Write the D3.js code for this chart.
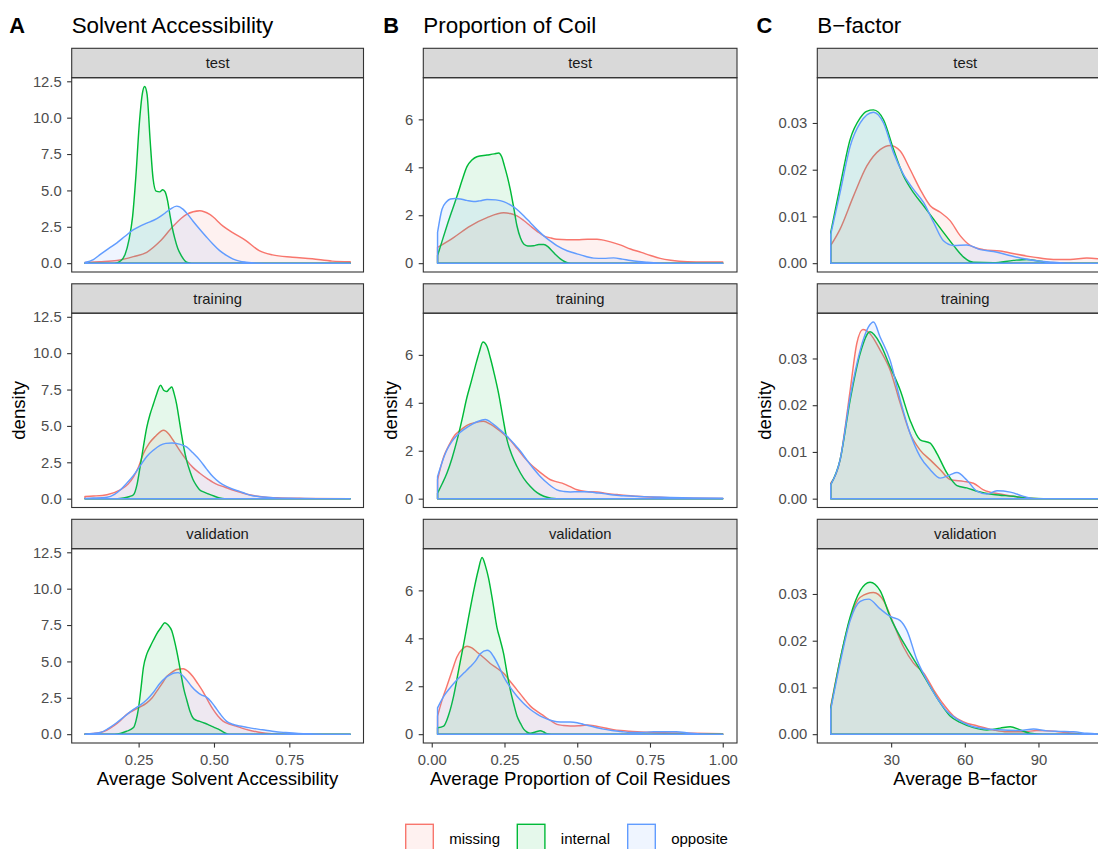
<!DOCTYPE html>
<html>
<head>
<meta charset="utf-8">
<script src="https://cdn.jsdelivr.net/npm/d3@7"></script>
<style>
  html, body { margin: 0; padding: 0; background: #ffffff; }
  svg { display: block; font-family: "Liberation Sans", Arial, Helvetica, sans-serif; }
</style>
</head>
<body>
<svg id="chart" width="1098" height="849"></svg>
<script>
// ---- categories ----
const splits = ["test", "training", "validation"];
const groups = ["missing", "internal", "opposite"];
const groupColors = ["#F8766D", "#00BA38", "#619CFF"];

// ---- tick labels ----
const saYTicks = [0, 2.5, 5, 7.5, 10, 12.5];
const saXTicks = [0.25, 0.5, 0.75];
const coilYTicks = [0, 2, 4, 6];
const coilXTicks = [0, 0.25, 0.5, 0.75, 1];
const bfYTicks = [0, 0.01, 0.02, 0.03];
const bfXTicks = [30, 60, 90];

// ---- density curves: [value, density] ----
// Solvent accessibility
const saTestMissing = [[0.072,0.05],[0.12,0.1],[0.178,0.18],[0.233,0.45],[0.277,0.75],[0.321,1.5],[0.365,2.55],[0.409,3.35],[0.453,3.6],[0.486,3.35],[0.53,2.55],[0.562,2.1],[0.606,1.55],[0.65,0.86],[0.694,0.57],[0.76,0.41],[0.826,0.3],[0.892,0.14],[0.952,0.1]];
const saTestInternal = [[0.072,0],[0.17,0],[0.19,0.15],[0.205,0.6],[0.218,1.6],[0.23,3.2],[0.241,6.0],[0.252,9.5],[0.262,11.6],[0.27,12.14],[0.278,11.6],[0.288,8.5],[0.298,5.8],[0.308,4.95],[0.32,4.9],[0.33,5.05],[0.338,4.9],[0.346,4.3],[0.354,3.3],[0.362,2.4],[0.37,1.7],[0.38,1.0],[0.392,0.5],[0.404,0.15],[0.415,0.03],[0.425,0],[0.952,0]];
const saTestOpposite = [[0.072,0.05],[0.1,0.25],[0.123,0.6],[0.15,1.0],[0.178,1.4],[0.205,1.85],[0.233,2.3],[0.255,2.55],[0.277,2.75],[0.3,2.95],[0.321,3.2],[0.338,3.45],[0.354,3.7],[0.376,3.92],[0.398,3.7],[0.415,3.3],[0.43,2.9],[0.452,2.35],[0.475,1.8],[0.497,1.3],[0.519,0.86],[0.54,0.55],[0.562,0.3],[0.585,0.14],[0.606,0.07],[0.64,0.01],[0.67,0],[0.952,0]];
const saTrainingMissing = [[0.072,0.15],[0.1,0.18],[0.145,0.27],[0.189,0.6],[0.215,1.0],[0.233,1.5],[0.25,2.2],[0.266,3.1],[0.285,3.8],[0.304,4.25],[0.333,4.7],[0.35,4.45],[0.365,4.0],[0.385,3.35],[0.409,2.65],[0.43,2.15],[0.453,1.75],[0.48,1.35],[0.508,1.0],[0.535,0.8],[0.562,0.6],[0.59,0.42],[0.617,0.27],[0.645,0.17],[0.672,0.1],[0.72,0.05],[0.8,0.02],[0.952,0]];
const saTrainingInternal = [[0.072,0],[0.18,0],[0.2,0.05],[0.22,0.15],[0.233,0.27],[0.245,1.0],[0.255,2.2],[0.266,3.6],[0.277,4.9],[0.288,5.8],[0.299,6.5],[0.31,7.2],[0.323,7.8],[0.333,7.45],[0.343,7.36],[0.352,7.55],[0.36,7.68],[0.368,7.2],[0.376,6.5],[0.384,5.5],[0.392,4.46],[0.4,3.5],[0.409,2.65],[0.42,1.9],[0.43,1.34],[0.442,0.9],[0.453,0.6],[0.467,0.45],[0.48,0.34],[0.5,0.18],[0.519,0.05],[0.535,0],[0.952,0]];
const saTrainingOpposite = [[0.072,0.02],[0.1,0.04],[0.145,0.1],[0.17,0.3],[0.189,0.6],[0.21,1.05],[0.233,1.6],[0.255,2.25],[0.277,2.9],[0.3,3.35],[0.321,3.67],[0.34,3.8],[0.36,3.83],[0.385,3.75],[0.409,3.56],[0.43,3.15],[0.453,2.65],[0.475,2.05],[0.497,1.5],[0.519,1.1],[0.541,0.84],[0.563,0.65],[0.585,0.5],[0.607,0.33],[0.628,0.2],[0.66,0.12],[0.694,0.07],[0.75,0.03],[0.8,0.01],[0.85,0],[0.952,0]];
const saValidationMissing = [[0.072,0.03],[0.1,0.05],[0.123,0.11],[0.145,0.28],[0.167,0.56],[0.19,0.95],[0.211,1.36],[0.244,1.76],[0.277,2.15],[0.295,2.5],[0.31,2.94],[0.327,3.45],[0.343,3.96],[0.36,4.25],[0.376,4.45],[0.398,4.5],[0.415,4.3],[0.43,3.96],[0.447,3.45],[0.463,2.94],[0.48,2.3],[0.497,1.7],[0.513,1.25],[0.53,0.9],[0.55,0.7],[0.573,0.56],[0.595,0.4],[0.617,0.27],[0.645,0.15],[0.672,0.07],[0.72,0.02],[0.8,0],[0.952,0]];
const saValidationInternal = [[0.072,0],[0.17,0],[0.189,0.05],[0.21,0.2],[0.233,0.45],[0.241,0.9],[0.249,1.7],[0.257,3.0],[0.266,4.6],[0.277,5.5],[0.288,6.0],[0.3,6.5],[0.31,6.9],[0.325,7.35],[0.337,7.66],[0.348,7.5],[0.36,7.1],[0.368,6.5],[0.376,5.76],[0.384,4.9],[0.392,3.96],[0.4,3.1],[0.409,2.4],[0.42,1.6],[0.43,1.13],[0.442,0.95],[0.453,0.88],[0.47,0.75],[0.486,0.6],[0.502,0.45],[0.519,0.3],[0.535,0.1],[0.55,0],[0.952,0]];
const saValidationOpposite = [[0.072,0.02],[0.1,0.05],[0.123,0.11],[0.15,0.4],[0.178,0.8],[0.205,1.25],[0.233,1.7],[0.255,2.0],[0.277,2.37],[0.3,2.9],[0.321,3.5],[0.338,3.85],[0.354,4.07],[0.368,4.2],[0.381,4.23],[0.395,4.05],[0.409,3.73],[0.425,3.3],[0.442,2.94],[0.458,2.7],[0.475,2.55],[0.49,2.25],[0.502,1.92],[0.52,1.4],[0.541,0.9],[0.562,0.68],[0.585,0.56],[0.607,0.48],[0.628,0.4],[0.65,0.33],[0.672,0.27],[0.7,0.18],[0.738,0.11],[0.78,0.05],[0.83,0.02],[0.88,0],[0.952,0]];

// Proportion of coil residues
const coilTestMissing = [[0.02,0.66],[0.075,1.07],[0.132,1.55],[0.19,1.9],[0.247,2.1],[0.27,2.07],[0.293,1.97],[0.316,1.78],[0.339,1.55],[0.362,1.33],[0.385,1.14],[0.41,1.05],[0.43,1.0],[0.465,0.98],[0.499,0.98],[0.535,1.0],[0.568,1.0],[0.59,0.96],[0.614,0.89],[0.65,0.75],[0.683,0.59],[0.72,0.45],[0.752,0.32],[0.785,0.2],[0.821,0.12],[0.85,0.08],[0.878,0.06],[0.94,0.05],[1.0,0.05]];
const coilTestInternal = [[0.02,0.32],[0.035,0.9],[0.052,1.55],[0.07,2.2],[0.087,2.8],[0.104,3.45],[0.121,4.03],[0.138,4.3],[0.155,4.44],[0.19,4.51],[0.215,4.56],[0.23,4.6],[0.24,4.45],[0.25,4.05],[0.26,3.6],[0.27,3.07],[0.282,2.3],[0.293,1.55],[0.305,1.05],[0.316,0.8],[0.33,0.72],[0.35,0.73],[0.368,0.78],[0.385,0.78],[0.4,0.68],[0.413,0.52],[0.428,0.33],[0.442,0.18],[0.456,0.07],[0.47,0.01],[0.485,0],[1.0,0]];
const coilTestOpposite = [[0.02,1.28],[0.035,2.24],[0.05,2.55],[0.064,2.68],[0.08,2.7],[0.098,2.68],[0.12,2.62],[0.144,2.57],[0.165,2.6],[0.19,2.66],[0.22,2.64],[0.247,2.57],[0.27,2.43],[0.293,2.24],[0.316,1.98],[0.339,1.69],[0.362,1.4],[0.385,1.14],[0.408,0.92],[0.43,0.73],[0.465,0.52],[0.499,0.39],[0.53,0.28],[0.557,0.21],[0.59,0.2],[0.625,0.22],[0.655,0.17],[0.683,0.11],[0.71,0.07],[0.74,0.04],[0.78,0.01],[0.82,0],[1.0,0]];
const coilTrainingMissing = [[0.02,0.79],[0.041,1.75],[0.058,2.2],[0.075,2.58],[0.098,2.85],[0.121,3.06],[0.15,3.18],[0.178,3.23],[0.2,3.12],[0.224,2.92],[0.247,2.7],[0.27,2.44],[0.293,2.1],[0.316,1.75],[0.339,1.45],[0.362,1.2],[0.385,0.98],[0.408,0.79],[0.43,0.7],[0.454,0.62],[0.476,0.5],[0.499,0.37],[0.53,0.3],[0.568,0.28],[0.6,0.22],[0.637,0.17],[0.67,0.13],[0.706,0.1],[0.75,0.07],[0.8,0.05],[0.85,0.03],[0.9,0.02],[1.0,0.01]];
const coilTrainingInternal = [[0.02,0.23],[0.035,0.6],[0.052,1.06],[0.07,1.7],[0.087,2.44],[0.104,3.3],[0.121,4.23],[0.135,4.85],[0.15,5.54],[0.163,6.1],[0.176,6.54],[0.19,6.35],[0.201,5.89],[0.215,5.2],[0.23,4.37],[0.245,3.35],[0.259,2.44],[0.276,1.8],[0.293,1.34],[0.316,0.85],[0.339,0.51],[0.362,0.25],[0.385,0.1],[0.41,0.02],[0.43,0],[1.0,0]];
const coilTrainingOpposite = [[0.02,0.92],[0.035,1.5],[0.052,2.03],[0.07,2.4],[0.087,2.65],[0.11,2.88],[0.132,3.06],[0.158,3.22],[0.184,3.3],[0.21,3.12],[0.236,2.86],[0.259,2.6],[0.282,2.3],[0.305,1.98],[0.327,1.61],[0.35,1.25],[0.373,0.92],[0.4,0.62],[0.43,0.37],[0.455,0.3],[0.476,0.28],[0.505,0.29],[0.534,0.29],[0.562,0.25],[0.591,0.21],[0.625,0.15],[0.66,0.12],[0.71,0.09],[0.763,0.07],[0.82,0.05],[0.9,0.03],[1.0,0.02]];
const coilValidationMissing = [[0.02,0.76],[0.035,1.4],[0.052,2.0],[0.07,2.65],[0.087,3.23],[0.105,3.55],[0.121,3.67],[0.138,3.6],[0.155,3.43],[0.178,3.2],[0.201,2.95],[0.224,2.75],[0.247,2.54],[0.27,2.2],[0.293,1.85],[0.316,1.5],[0.339,1.17],[0.362,0.95],[0.385,0.76],[0.408,0.57],[0.43,0.41],[0.453,0.36],[0.476,0.34],[0.505,0.35],[0.534,0.38],[0.562,0.34],[0.591,0.27],[0.62,0.2],[0.649,0.15],[0.678,0.12],[0.706,0.1],[0.75,0.08],[0.8,0.06],[0.9,0.04],[1.0,0.02]];
const coilValidationInternal = [[0.02,0.27],[0.041,0.34],[0.058,0.8],[0.075,1.58],[0.092,2.65],[0.11,3.78],[0.127,4.9],[0.144,5.97],[0.16,6.85],[0.173,7.37],[0.185,7.0],[0.195,6.52],[0.21,5.5],[0.224,4.46],[0.236,3.9],[0.247,3.36],[0.258,2.6],[0.27,1.85],[0.282,1.25],[0.293,0.76],[0.305,0.45],[0.316,0.21],[0.328,0.08],[0.339,0.04],[0.356,0.09],[0.373,0.14],[0.385,0.09],[0.396,0.02],[0.41,0],[1.0,0]];
const coilValidationOpposite = [[0.02,1.1],[0.041,1.58],[0.064,1.95],[0.087,2.27],[0.11,2.55],[0.132,2.81],[0.15,3.05],[0.167,3.36],[0.19,3.5],[0.2,3.45],[0.213,3.23],[0.23,2.85],[0.247,2.4],[0.27,1.95],[0.293,1.58],[0.316,1.28],[0.339,1.03],[0.362,0.84],[0.385,0.69],[0.408,0.58],[0.43,0.52],[0.455,0.51],[0.476,0.51],[0.5,0.48],[0.522,0.41],[0.545,0.34],[0.568,0.27],[0.59,0.21],[0.614,0.16],[0.65,0.11],[0.683,0.07],[0.72,0.07],[0.763,0.1],[0.8,0.1],[0.84,0.1],[0.889,0.04],[0.93,0.01],[1.0,0]];

// B-factor
const bfTestMissing = [[5.4,0.0038],[9.2,0.0073],[14.7,0.0144],[20.1,0.0208],[25.5,0.0243],[29.6,0.0252],[33.7,0.024],[37.7,0.0201],[41.8,0.0158],[45.9,0.0123],[50,0.0109],[54,0.0091],[58.1,0.0059],[62.2,0.0038],[67.6,0.0029],[74.4,0.0026],[81.2,0.0019],[88,0.0013],[96.1,0.0008],[102.9,0.0008],[109.7,0.0011],[115,0.0009]];
const bfTestInternal = [[5.4,0.0066],[9.2,0.0165],[13.3,0.0265],[17.4,0.0311],[20,0.0325],[22.8,0.0328],[26.9,0.0307],[31,0.0243],[35,0.0187],[39.1,0.0151],[43.2,0.0123],[47.3,0.0094],[51.3,0.0066],[55.4,0.0038],[59.5,0.0013],[63.5,0.0002],[71.7,0.0001],[79.8,0.0006],[85.3,0.0008],[90.7,0.0004],[97.5,0],[115,0]];
const bfTestOpposite = [[5.4,0.0062],[9.2,0.0151],[13.3,0.025],[17.4,0.03],[22.8,0.0323],[26.9,0.03],[31,0.0236],[35,0.019],[39.1,0.0158],[43.2,0.013],[47.3,0.0087],[51.3,0.0048],[55.4,0.0038],[60.8,0.0039],[66.3,0.0029],[71.7,0.0025],[77.1,0.0018],[82.6,0.0011],[90.7,0.0004],[98.8,0.0001],[105,0],[115,0]];
const bfTrainingMissing = [[5.4,0.0033],[9.2,0.0083],[13.3,0.0232],[16,0.0332],[18.5,0.0362],[21.4,0.0353],[25.5,0.0318],[29.6,0.0275],[33.7,0.0204],[37.7,0.014],[41.8,0.0104],[45.9,0.0083],[50,0.0062],[54,0.0041],[59.5,0.0037],[63.5,0.0033],[67.6,0.0019],[74.4,0.001],[81.2,0.0004],[90,0],[115,0]];
const bfTrainingInternal = [[5.4,0.003],[9.2,0.0083],[13.3,0.0211],[17.4,0.0311],[21.4,0.0357],[25.5,0.0332],[29.6,0.0282],[33.7,0.0232],[37.7,0.0168],[41.8,0.0126],[45.9,0.0119],[48.6,0.0097],[52.7,0.0055],[56.8,0.0028],[60.8,0.0023],[64.9,0.0016],[71.7,0.0009],[79.8,0.0005],[86,0.0001],[92,0],[115,0]];
const bfTrainingOpposite = [[5.4,0.003],[9.2,0.0083],[13.3,0.0218],[17.4,0.0318],[20.7,0.0367],[22.8,0.0378],[25.5,0.0346],[29.6,0.0296],[33.7,0.0211],[37.7,0.014],[41.8,0.009],[45.9,0.0062],[50,0.0044],[54,0.0051],[56.8,0.0056],[60.8,0.004],[64.9,0.0016],[69,0.001],[73.1,0.0017],[78.5,0.0014],[84,0.0005],[88,0],[115,0]];
const bfValidationMissing = [[5.4,0.006],[9.2,0.0159],[13.3,0.0247],[17.4,0.0293],[22.8,0.0303],[26.9,0.0286],[31,0.0236],[35,0.0187],[39.1,0.0152],[43.2,0.0131],[47.3,0.0095],[51.3,0.0064],[55.4,0.0039],[59.5,0.0026],[64.9,0.0018],[71.7,0.0009],[77.1,0.0005],[84,0.0005],[89.3,0.0008],[94.8,0.0007],[100.2,0.0004],[107,0.0001],[115,0]];
const bfValidationInternal = [[5.4,0.0056],[9.2,0.0159],[13.3,0.0251],[17.4,0.0307],[21.4,0.0325],[25.5,0.0307],[29.6,0.0251],[33.7,0.0208],[37.7,0.0173],[41.8,0.0138],[45.9,0.0102],[50,0.0067],[54,0.0039],[58.1,0.0025],[63.5,0.0014],[69,0.0009],[74.4,0.0013],[78.5,0.0016],[82.6,0.0009],[86.6,0.0002],[92,0],[115,0]];
const bfValidationOpposite = [[5.4,0.0053],[9.2,0.0152],[13.3,0.0243],[17.4,0.0284],[20.8,0.0289],[25.5,0.0268],[29.6,0.0252],[33.7,0.0243],[36.4,0.0222],[40.5,0.0159],[44.5,0.0116],[48.6,0.0078],[52.7,0.0049],[56.8,0.0032],[62.2,0.0018],[69,0.0011],[75.8,0.0009],[82.6,0.0008],[88,0.0011],[93.4,0.0007],[98.8,0.0006],[104.3,0.0005],[109.7,0.0002],[115,0]];

// ---- column definitions ----
const columns = [
  { tag: "A", tagX: 9.3, title: "Solvent Accessibility", xTitle: "Average Solvent Accessibility",
    left: 71.7, right: 363.5, densityX: 25, xTicks: saXTicks, yTicks: saYTicks,
    xFmt: d3.format(".2f"), yFmt: d3.format(".1f"),
    series: [[saTestMissing, saTestInternal, saTestOpposite],
             [saTrainingMissing, saTrainingInternal, saTrainingOpposite],
             [saValidationMissing, saValidationInternal, saValidationOpposite]] },
  { tag: "B", tagX: 383.3, title: "Proportion of Coil", xTitle: "Average Proportion of Coil Residues",
    left: 423.3, right: 737, densityX: 396.5, xTicks: coilXTicks, yTicks: coilYTicks,
    xFmt: d3.format(".2f"), yFmt: d3.format("d"),
    series: [[coilTestMissing, coilTestInternal, coilTestOpposite],
             [coilTrainingMissing, coilTrainingInternal, coilTrainingOpposite],
             [coilValidationMissing, coilValidationInternal, coilValidationOpposite]] },
  { tag: "C", tagX: 756.5, title: "B\u2212factor", xTitle: "Average B\u2212factor",
    left: 817.3, right: 1113.3, densityX: 770.5, xTicks: bfXTicks, yTicks: bfYTicks,
    xFmt: d3.format("d"), yFmt: d3.format(".2f"),
    series: [[bfTestMissing, bfTestInternal, bfTestOpposite],
             [bfTrainingMissing, bfTrainingInternal, bfTrainingOpposite],
             [bfValidationMissing, bfValidationInternal, bfValidationOpposite]] }
];

// ---- layout ----
const rowTop0 = 48.3, rowPitch = 235.5, stripH = 29.4, panelH = 194.3;
const tickLen = 4.6;
const lineCol = "#333333", tickTextCol = "#4D4D4D";
const fsTick = 14.8, fsStrip = 14.8, fsAxisTitle = 18.6, fsTitle = 22.4;

const svg = d3.select("#chart");
svg.append("rect").attr("width", 1098).attr("height", 849).attr("fill", "#ffffff");

columns.forEach((col) => {
  const xMin = d3.min(col.series.flat(), s => d3.min(s, p => p[0]));
  const xMax = d3.max(col.series.flat(), s => d3.max(s, p => p[0]));
  const yMax = d3.max(col.series.flat(), s => d3.max(s, p => p[1]));
  const xPad = (xMax - xMin) * 0.05;
  const x = d3.scaleLinear().domain([xMin - xPad, xMax + xPad]).range([col.left, col.right]);

  // heading
  svg.append("text").attr("x", col.tagX).attr("y", 33.3)
    .attr("font-size", fsTitle - 0.6).attr("font-weight", "bold").attr("fill", "#000")
    .text(col.tag);
  svg.append("text").attr("x", col.left).attr("y", 33.3).attr("font-size", fsTitle)
    .attr("fill", "#000").text(col.title);

  splits.forEach((split, r) => {
    const stripTop = rowTop0 + r * rowPitch;
    const pTop = stripTop + stripH;
    const pBot = pTop + panelH;
    const y = d3.scaleLinear().domain([-0.05 * yMax, 1.05 * yMax]).range([pBot, pTop]);

    // strip
    svg.append("rect").attr("x", col.left).attr("y", stripTop)
      .attr("width", col.right - col.left).attr("height", stripH)
      .attr("fill", "#D9D9D9").attr("stroke", lineCol).attr("stroke-width", 1.1);
    svg.append("text").attr("x", (col.left + col.right) / 2)
      .attr("y", stripTop + stripH / 2).attr("dy", "0.35em")
      .attr("text-anchor", "middle").attr("font-size", fsStrip).attr("fill", "#1A1A1A")
      .text(split);

    // densities, drawn in group order
    const clipId = `clip-${col.tag}-${r}`;
    svg.append("clipPath").attr("id", clipId).append("rect")
      .attr("x", col.left).attr("y", pTop).attr("width", col.right - col.left).attr("height", panelH);
    const g = svg.append("g").attr("clip-path", `url(#${clipId})`);
    const area = d3.area()
      .x(d => x(d[0])).y0(y(0)).y1(d => y(d[1]))
      .curve(d3.curveMonotoneX);
    col.series[r].forEach((s, gi) => {
      g.append("path").attr("d", area(s))
        .attr("fill", groupColors[gi]).attr("fill-opacity", 0.1)
        .attr("stroke", groupColors[gi]).attr("stroke-width", 1.45)
        .attr("stroke-linejoin", "round");
    });

    // panel border
    svg.append("rect").attr("x", col.left).attr("y", pTop)
      .attr("width", col.right - col.left).attr("height", panelH)
      .attr("fill", "none").attr("stroke", lineCol).attr("stroke-width", 1.1);

    // y axis
    const yAxis = svg.append("g").attr("transform", `translate(${col.left},0)`)
      .call(d3.axisLeft(y).tickValues(col.yTicks).tickFormat(col.yFmt)
        .tickSize(tickLen).tickPadding(5.4));
    yAxis.select(".domain").remove();
    yAxis.selectAll(".tick line").attr("stroke", lineCol).attr("stroke-width", 1.1);
    yAxis.selectAll(".tick text").attr("fill", tickTextCol).attr("font-size", fsTick)
      .attr("font-family", null);

    // x axis on the bottom row only
    if (r === splits.length - 1) {
      const xAxis = svg.append("g").attr("transform", `translate(0,${pBot})`)
        .call(d3.axisBottom(x).tickValues(col.xTicks).tickFormat(col.xFmt)
          .tickSize(tickLen).tickPadding(6.6));
      xAxis.select(".domain").remove();
      xAxis.selectAll(".tick line").attr("stroke", lineCol).attr("stroke-width", 1.1);
      xAxis.selectAll(".tick text").attr("fill", tickTextCol).attr("font-size", fsTick)
        .attr("font-family", null);
      svg.append("text").attr("x", (col.left + col.right) / 2)
        .attr("y", pBot + 42.3).attr("text-anchor", "middle")
        .attr("font-size", fsAxisTitle).attr("fill", "#000").text(col.xTitle);
    }

    // y axis title on the middle row
    if (r === 1) {
      const cy = (pTop + pBot) / 2;
      svg.append("text").attr("transform", `translate(${col.densityX},${cy}) rotate(-90)`)
        .attr("text-anchor", "middle").attr("font-size", fsAxisTitle).attr("fill", "#000")
        .text("density");
    }
  });
});

// ---- legend ----
const legendKeys = [405.7, 517.3, 627.7];
const legend = svg.append("g");
groups.forEach((name, i) => {
  legend.append("rect").attr("x", legendKeys[i]).attr("y", 824.3)
    .attr("width", 27.6).attr("height", 27.6)
    .attr("fill", groupColors[i]).attr("fill-opacity", 0.1)
    .attr("stroke", groupColors[i]).attr("stroke-width", 1.4);
  legend.append("text").attr("x", legendKeys[i] + 43.5).attr("y", 843.5)
    .attr("font-size", 15).attr("fill", "#000").text(name);
});
</script>
</body>
</html>
